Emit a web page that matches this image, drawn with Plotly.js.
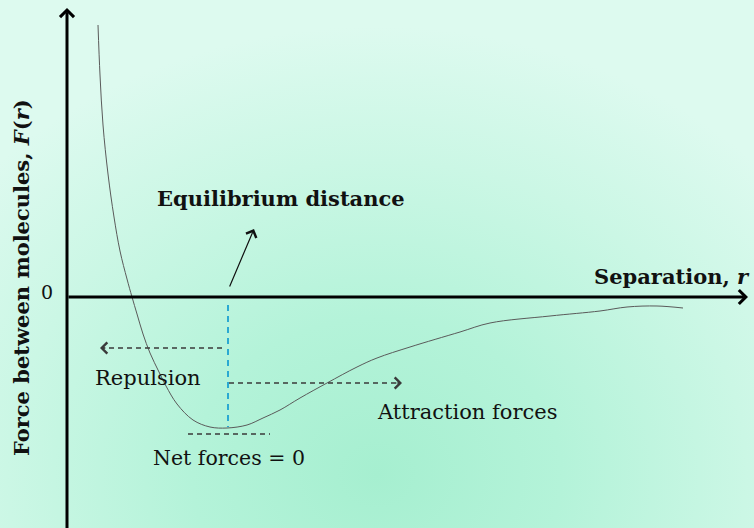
<!DOCTYPE html>
<html>
<head>
<meta charset="utf-8">
<script src="https://cdn.plot.ly/plotly-3.0.1.min.js"></script>
<style>
  html, body { margin: 0; padding: 0; }
  body {
    width: 754px; height: 528px; overflow: hidden;
    background: radial-gradient(ellipse 70% 85% at 50% 90%, #a6efd0 0%, #b4f3d9 35%, #cbf7e5 70%, #ddfaef 100%);
  }
  #chart { width: 754px; height: 528px; }
</style>
</head>
<body>
<div id="chart"></div>
<script>
// Separation r and force F(r) (arbitrary units; origin at the axes' crossing)
const separation = [31, 33, 36, 41, 47, 53, 60, 65, 70, 76, 83, 92, 99, 110, 126, 143, 160, 180, 196, 213, 233, 260, 290, 310, 343, 393, 423, 483, 533, 560, 590, 616];
const force      = [272, 222, 172, 123, 80, 46, 18, 0, -17, -37, -56, -75, -89, -107, -123, -130, -131, -128, -121, -113, -101, -86, -70, -61, -50, -35, -26, -19, -14, -10, -9, -11];

const equilibriumR = 161;
const minForce = -131;
const zeroLabel = '0';
const labels = {
  yTitle: '<b>Force between molecules, <i>F</i>(<i>r</i>)</b>',
  xTitle: '<b>Separation, <i>r</i></b>',
  equilibrium: '<b>Equilibrium distance</b>',
  repulsion: 'Repulsion',
  attraction: 'Attraction forces',
  net: 'Net forces = 0'
};

const serif = 'DejaVu Serif, serif';
const dashGray = '#3a3a3a';

const curve = {
  x: separation, y: force, mode: 'lines', type: 'scatter',
  line: { color: '#5a5a5a', width: 1, shape: 'spline', smoothing: 1 },
  hoverinfo: 'skip', showlegend: false
};

function arrow(x, y, ax, ay, opts) {
  return Object.assign({
    x: x, y: y, ax: ax, ay: ay, xref: 'x', yref: 'y', axref: 'x', ayref: 'y',
    text: '', showarrow: true, arrowhead: 4, arrowsize: 0.9, arrowwidth: 3,
    arrowcolor: '#000', standoff: 0, startstandoff: 0
  }, opts || {});
}
function label(x, y, text, size, opts) {
  return Object.assign({
    x: x, y: y, xref: 'x', yref: 'y', text: text, showarrow: false,
    font: { family: serif, size: size, color: '#111' }
  }, opts || {});
}

const annotations = [
  // axes
  arrow(0, 289, 0, -240),
  arrow(681, 0, 0, 0),
  // equilibrium arrow
  arrow(187, 68, 162, 9, { arrowwidth: 1.2, arrowsize: 1.8, arrowcolor: '#111' }),
  // dashed arrow heads
  arrow(33, -51, 40, -51, { arrowwidth: 1.2, arrowsize: 1.8, arrowcolor: dashGray }),
  arrow(335, -86, 328, -86, { arrowwidth: 1.2, arrowsize: 1.8, arrowcolor: dashGray }),
  // text
  label(-20, 5, zeroLabel, 19),
  label(-46, 19, labels.yTitle, 21, { textangle: -90 }),
  label(685, 21, labels.xTitle, 21, { xanchor: 'right' }),
  label(214, 99, labels.equilibrium, 21),
  label(81, -81, labels.repulsion, 21),
  label(400, -115, labels.attraction, 21),
  label(162, -161, labels.net, 20.5)
];

const shapes = [
  { type: 'line', xref: 'x', yref: 'y', x0: equilibriumR, x1: equilibriumR, y0: -8, y1: minForce + 1,
    line: { color: '#2aa9d2', width: 2, dash: '6px,5px' } },
  { type: 'line', xref: 'x', yref: 'y', x0: 155, x1: 35, y0: -51, y1: -51,
    line: { color: dashGray, width: 1.3, dash: '5px,4px' } },
  { type: 'line', xref: 'x', yref: 'y', x0: 162, x1: 333, y0: -86, y1: -86,
    line: { color: dashGray, width: 1.3, dash: '5px,4px' } },
  { type: 'line', xref: 'x', yref: 'y', x0: 121, x1: 203, y0: -137, y1: -137,
    line: { color: dashGray, width: 1.3, dash: '5px,4px' } }
];

const hidden = { showgrid: false, zeroline: false, showline: false, showticklabels: false, ticks: '', fixedrange: true };

const layout = {
  width: 754, height: 528,
  margin: { l: 0, r: 0, t: 0, b: 0, pad: 0 },
  paper_bgcolor: 'rgba(0,0,0,0)', plot_bgcolor: 'rgba(0,0,0,0)',
  xaxis: Object.assign({ range: [-67, 687] }, hidden),
  yaxis: Object.assign({ range: [-231, 297] }, hidden),
  showlegend: false,
  annotations: annotations,
  shapes: shapes
};

Plotly.newPlot('chart', [curve], layout, { staticPlot: true, displayModeBar: false });
</script>
</body>
</html>
